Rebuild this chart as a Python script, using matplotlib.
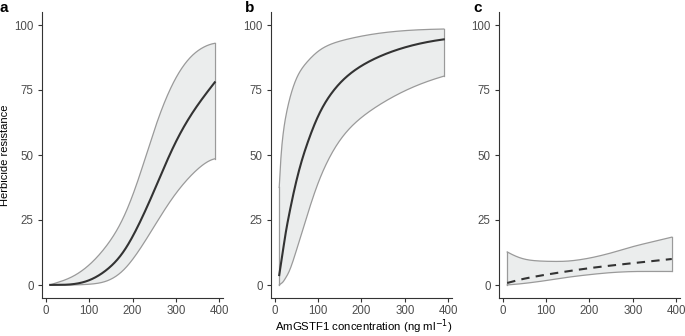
import matplotlib
matplotlib.use("Agg")
import matplotlib.pyplot as plt
import numpy as np

plt.rcParams['font.family'] = ['Liberation Sans', 'DejaVu Sans']

# Panel a
a_mean_x = [10, 63, 101, 139, 178, 216, 254, 293, 331, 369, 390]
a_mean = [0, 0.25, 1.7, 5.5, 12, 23.6, 37.7, 53, 64.5, 73.4, 78]
a_upper = [0, 3.2, 7.7, 14.7, 24.9, 41.5, 61.9, 77.9, 87.5, 92, 93]
a_lower = [0, 0, 0.3, 1.2, 5.1, 13.4, 23.6, 33.8, 41.5, 47.3, 48.5]

# Panel b
b_mean_x = [10, 27, 46, 66, 104, 143, 181, 220, 259, 297, 336, 390]
b_mean = [3.8, 22.3, 37.7, 50.4, 67, 76.6, 82.4, 86.2, 89.1, 91.3, 93, 94.5]
b_upper_x = [10, 15.4, 23, 34.7, 50, 66, 104, 143, 220, 297, 390]
b_upper = [37.7, 53, 63.2, 72.2, 79.8, 84.3, 90.7, 93.6, 96.4, 97.9, 98.5]
b_lower_x = [10, 19.3, 34.7, 50, 66, 104, 143, 181, 220, 259, 297, 336, 390]
b_lower = [0, 1.2, 5.7, 13.4, 22.3, 41.5, 54.3, 62, 67, 70.9, 74.7, 77.3, 80.4]

# Panel c
c_x = [10, 50, 100, 150, 200, 250, 300, 350, 390]
c_mean = [0.8, 2.5, 4, 5.3, 6.5, 7.5, 8.4, 9.3, 10]
c_upper = [12.6, 9.7, 9.1, 9.1, 10.3, 12.3, 14.8, 16.8, 18.4]
c_lower = [0, 0.6, 1.7, 3.0, 4.0, 4.8, 5.2, 5.2, 5.2]

panels = [
    ("a", (a_mean_x, a_mean), (a_mean_x, a_upper), (a_mean_x, a_lower), "-", False),
    ("b", (b_mean_x, b_mean), (b_upper_x, b_upper), (b_lower_x, b_lower), "-", True),
    ("c", (c_x, c_mean), (c_x, c_upper), (c_x, c_lower), "--", False),
]


def smooth_curve(xv, yv, xs, logx):
    """Local quadratic smoothing of the piecewise-linear path through read points."""
    xv = np.asarray(xv, float); yv = np.asarray(yv, float)
    dense_x = np.linspace(xv[0], xv[-1], 800)
    dense_y = np.interp(dense_x, xv, yv)
    if logx:
        u, uq, bw = np.log(dense_x), np.log(xs), 0.2
    else:
        u, uq, bw = dense_x, xs, 24.0
    out = np.empty_like(xs)
    for j, q in enumerate(uq):
        w = np.exp(-0.5 * ((u - q) / bw) ** 2)
        d = u - q
        X = np.vstack([np.ones_like(d), d, d * d]).T
        WX = X * w[:, None]
        beta = np.linalg.lstsq(WX.T @ X, WX.T @ dense_y, rcond=None)[0]
        out[j] = beta[0]
    return out


W, H = 685, 336
fig = plt.figure(figsize=(W / 100, H / 100), dpi=100)

lefts = [42, 271, 499]
label_x = [0, 245, 473]
width_px = 181
bottom_px = 38
height_px = 286

axes = []
for (lab, mser, user, lser, ls, logx), lp, lx in zip(panels, lefts, label_x):
    ax = fig.add_axes([lp / W, bottom_px / H, width_px / W, height_px / H])
    xs = np.linspace(10, 390, 300)
    ms = smooth_curve(*mser, xs, logx)
    us = smooth_curve(*user, xs, logx)
    lsm = np.maximum(smooth_curve(*lser, xs, logx), 0)
    ax.fill_between(xs, lsm, us, facecolor="#ebeded", edgecolor="none", zorder=1)
    ax.plot(xs, us, color="#9a9a9a", lw=0.9, zorder=2)
    ax.plot(xs, lsm, color="#9a9a9a", lw=0.9, zorder=2)
    ax.plot([xs[0], xs[0]], [lsm[0], us[0]], color="#9a9a9a", lw=0.9, zorder=2)
    ax.plot([xs[-1], xs[-1]], [lsm[-1], us[-1]], color="#9a9a9a", lw=0.9, zorder=2)
    if ls == "--":
        ax.plot(xs, ms, color="#333333", lw=1.5, ls=(0, (4, 3)), zorder=3)
    else:
        ax.plot(xs, ms, color="#333333", lw=1.5, zorder=3)
    ax.set_xlim(-9, 409)
    ax.set_ylim(-5, 105)
    ax.set_xticks([0, 100, 200, 300, 400])
    ax.set_yticks([0, 25, 50, 75, 100])
    for s in ["top", "right"]:
        ax.spines[s].set_visible(False)
    for s in ["left", "bottom"]:
        ax.spines[s].set_color("#333333")
        ax.spines[s].set_linewidth(0.8)
    ax.tick_params(direction="out", length=3, width=0.8, color="#333333",
                   labelsize=8.3, labelcolor="#4d4d4d")
    ax.tick_params(axis="y", pad=3)
    ax.tick_params(axis="x", pad=2)
    fig.text(lx / W, 1 - 7.5 / H, lab, fontsize=11, fontweight="bold",
             ha="left", va="center")
    axes.append(ax)

axes[0].set_ylabel("Herbicide resistance", fontsize=8, labelpad=3)
fig.text(364 / W, 1 - 330.5 / H, "AmGSTF1 concentration (ng ml$^{-1}$)",
         fontsize=8.2, ha="center", va="baseline")

fig.savefig("out.png", dpi=100)
